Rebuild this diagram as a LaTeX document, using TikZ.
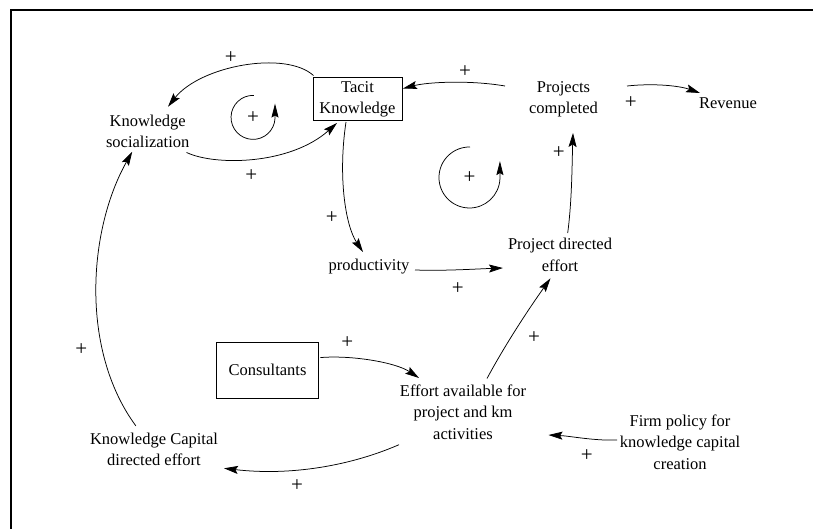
\documentclass[tikz,border=0pt]{standalone}
\usepackage{fontspec}
\setmainfont{Liberation Serif}
\usetikzlibrary{arrows.meta,calc}
\begin{document}
\begin{tikzpicture}[x=1pt,y=-1pt,
  lbl/.style={align=center,font=\fontsize{16.5}{21.5}\selectfont,inner sep=0pt},
  boxnode/.style={draw,line width=1pt,align=center,font=\fontsize{16.5}{21.5}\selectfont,inner sep=0pt},
  pl/.style={font=\fontsize{21}{21}\selectfont,inner sep=0pt},
  link/.style={line width=0.75pt,-{Stealth[length=14pt,width=8pt,inset=2.5pt]}},
  loopline/.style={line width=0.75pt,-{Stealth[length=14pt,width=7pt,inset=2pt]}},
]
\useasboundingbox (0,0) rectangle (813,529);
% frame (top and left only)
\coordinate (ftl) at (11,10);
\coordinate (ftr) at (813,10);
\coordinate (fbl) at (11,529);
\draw[line width=1.6pt] (ftr) -- (ftl) -- (fbl);

% nodes
\node[boxnode,minimum width=89pt,minimum height=43pt] (tk) at (357.5,99.5) {Tacit\\Knowledge};
\node[lbl] (ks) at (147.7,131.5) {Knowledge\\socialization};
\node[lbl] (pc) at (563.5,99.5) {Projects\\completed};
\node[lbl] (rev) at (728,103) {Revenue};
\node[lbl] (prod) at (369,266.5) {productivity};
\node[lbl] (pde) at (560,254.7) {Project directed\\effort};
\node[boxnode,minimum width=101.6pt,minimum height=56pt] (cons) at (267.5,370) {Consultants};
\node[lbl] (eff) at (463,412) {Effort available for\\project and km\\activities};
\node[lbl] (kc) at (154,449.4) {Knowledge Capital\\directed effort};
\node[lbl] (firm) at (680,442) {Firm policy for\\knowledge capital\\creation};

% plus signs
\node[pl] (p1) at (230.7,57.4) {+};
\node[pl] (p2) at (465,71.5) {+};
\node[pl] (p3) at (630.7,102.7) {+};
\node[pl] (p4) at (251.4,176) {+};
\node[pl] (p5) at (331.8,217.6) {+};
\node[pl] (p6) at (457.8,289) {+};
\node[pl] (p7) at (558.9,152.5) {+};
\node[pl] (p8) at (347.3,342.4) {+};
\node[pl] (p9) at (534,337.4) {+};
\node[pl] (p10) at (297,485.8) {+};
\node[pl] (p11) at (81.4,349.2) {+};
\node[pl] (p12) at (586.8,456) {+};
\node[pl] (l1) at (253,117.4) {+};
\node[pl] (l2) at (469.5,177.5) {+};

% loops
\draw[loopline] ($(l1)+(0.8,-22)$) arc[start angle=-88,end angle=-357,radius=22] -- ++(0,-15);
\draw[loopline] ($(l2)+(0.5,-30.5)$) arc[start angle=-89,end angle=-357,radius=30.5] -- ++(0,-18);

% connectors
\draw[link] ($(pc)+(-58.5,-13.5)$) .. controls (470,80) and (428,82) .. ($(tk)+(45.5,-11)$);
\draw[link] ($(pc)+(63.5,-13.5)$) .. controls (655,83) and (680,86) .. ($(rev)+(-28,-10)$);
\draw[link] ($(tk)+(-44,-24)$) .. controls (285,50) and (200,66) .. ($(ks)+(20.3,-24.8)$);
\draw[link] ($(ks)+(38.9,21)$) .. controls (215,166) and (290,165) .. ($(tk)+(-20.5,23.5)$);
\draw[link] ($(tk)+(-11.5,22.5)$) .. controls (338,175) and (345,225) .. ($(prod)+(-6,-14.5)$);
\draw[link] ($(prod)+(46,3.5)$) .. controls (445,271) and (475,269) .. ($(pde)+(-57,13.3)$);
\draw[link] ($(pde)+(7.7,-21.7)$) .. controls (572,200) and (572,165) .. ($(pc)+(9.5,33.5)$);
\draw[link] ($(cons)+(52.9,-12.4)$) .. controls (350,355) and (395,362) .. ($(eff)+(-44,-34)$);
\draw[link] ($(eff)+(24,-33.5)$) .. controls (505,345) and (528,310) .. ($(pde)+(-9.5,23.6)$);
\draw[link] ($(eff)+(-64,32.7)$) .. controls (350,466) and (290,476) .. ($(kc)+(70,18.9)$);
\draw[link] ($(kc)+(-18.2,-23.6)$) .. controls (80,350) and (88,230) .. ($(ks)+(-15.5,20.3)$);
\draw[link] ($(firm)+(-63,-2)$) .. controls (595,441) and (570,436) .. ($(eff)+(85.5,23)$);
\end{tikzpicture}
\end{document}
